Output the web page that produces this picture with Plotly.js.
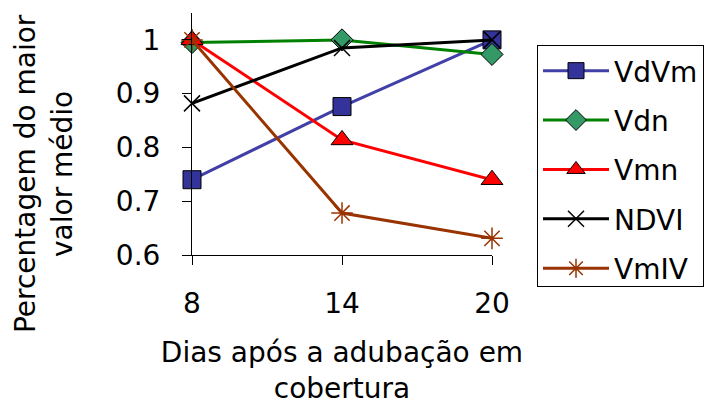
<!DOCTYPE html>
<html><head><meta charset="utf-8">
<script src="https://cdn.plot.ly/plotly-3.0.1.min.js"></script>
<style>body{margin:0;background:#fff}#c{width:713px;height:405px}</style>
</head><body><div id="c"></div>
<script>
const dias = [8, 14, 20];
const seriesNames = ["VdVm", "Vdn", "Vmn", "NDVI", "VmIV"];
const VdVm = [0.740, 0.876, 1.000];
const Vdn  = [0.995, 1.000, 0.973];
const Vmn  = [1.000, 0.814, 0.740];
const NDVI = [0.882, 0.985, 1.000];
const VmIV = [1.000, 0.678, 0.631];
const values = [VdVm, Vdn, Vmn, NDVI, VmIV];
const xTitle = 'Dias após a adubação em<br>cobertura';
const yTitle = 'Percentagem do maior<br>valor médio';

const styles = [
  {line:'#4040A8', marker:{symbol:'square', size:18, color:'#333399', line:{color:'#000', width:1}}},
  {line:'#008000', marker:{symbol:'diamond', size:17, color:'#339966', line:{color:'#000', width:1}}},
  {line:'#FF0000', marker:{symbol:'triangle-up', size:19, color:'#FF0000', line:{color:'#000', width:1}}},
  {line:'#000000', marker:{symbol:'x-thin-open', size:16, color:'#000', line:{color:'#000', width:1.5}}},
  {line:'#993300', marker:{symbol:'asterisk-open', size:18, color:'#993300', line:{color:'#993300', width:1.5}}}
];

const traces = seriesNames.map((n, i) => ({
  type:'scatter', mode:'lines+markers', name:n, x:dias, y:values[i],
  legendgroup:n,
  line:{color:styles[i].line, width:3},
  marker:styles[i].marker,
  cliponaxis:false
}));

const font = {family:'DejaVu Sans, sans-serif', size:28, color:'#000'};
const layout = {
  width:713, height:405,
  margin:{l:192, r:221, t:13, b:150, pad:0, autoexpand:false},
  paper_bgcolor:'#fff', plot_bgcolor:'#fff',
  font:font,
  showlegend:true,
  legend:{x:1.15, xanchor:'left', y:0.868, yanchor:'top', bgcolor:'#fff',
    bordercolor:'#000', borderwidth:1, font:font, tracegroupgap:10, itemwidth:66},
  xaxis:{range:[8,20], tickvals:dias, ticktext:dias.map(String),
    showgrid:false, zeroline:false, showline:true, linecolor:'#000', linewidth:1,
    ticks:'outside', ticklen:9, tickcolor:'#000', tickfont:font, ticklabelstandoff:14,
    title:{text:xTitle, font:font, standoff:23}},
  yaxis:{range:[0.6,1.05], tickvals:[0.6,0.7,0.8,0.9,1], ticktext:['0.6','0.7','0.8','0.9','1'],
    showgrid:false, zeroline:false, showline:true, linecolor:'#000', linewidth:1,
    ticks:'outside', ticklen:9, tickcolor:'#000', tickfont:font, ticklabelstandoff:16},
  annotations:[{text:yTitle, xref:'paper', yref:'paper', x:-0.493, y:0.335,
    xanchor:'center', yanchor:'middle', textangle:-90, showarrow:false, font:font}]
};
Plotly.newPlot('c', traces, layout, {displayModeBar:false, staticPlot:true});
</script></body></html>
